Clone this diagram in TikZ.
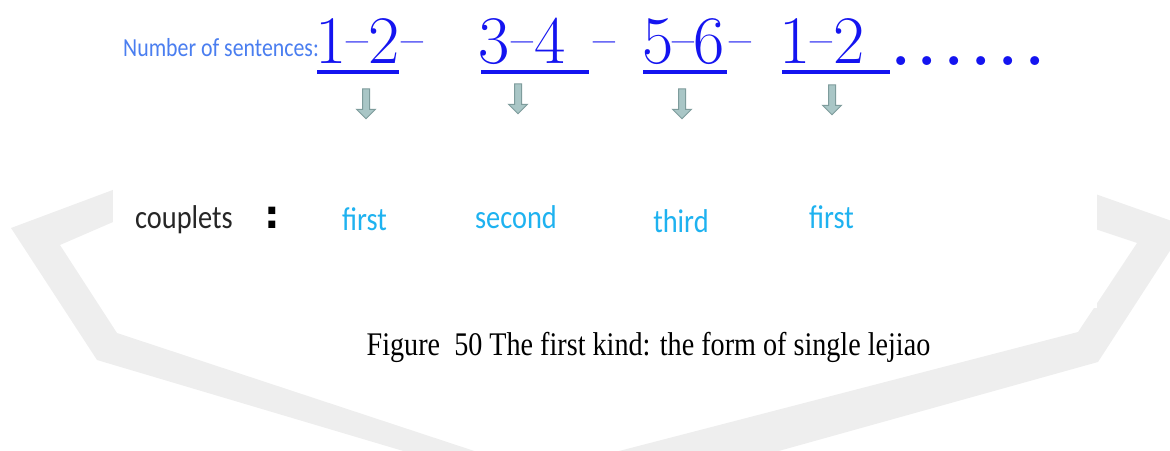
\documentclass[tikz,border=0pt]{standalone}
\usepackage{fontspec}
\usepackage{graphicx}
\usetikzlibrary{shapes.arrows}
\newfontfamily\uifont{Carlito}
\newfontfamily\capfont{Liberation Serif}
\newfontfamily\colonfont{DejaVu Sans}
\definecolor{numblue}{HTML}{1414F0}
\definecolor{lblblue}{HTML}{4A7EF0}
\definecolor{cyanlbl}{HTML}{1EB2F0}
\definecolor{arrfill}{HTML}{A9C6C6}
\definecolor{arrdraw}{HTML}{7E9C9C}
\definecolor{wm}{HTML}{EEEEEE}
\newcommand{\numdash}{\raisebox{0.045em}{\scalebox{0.7}[1]{\textendash}}}
\tikzset{
  dig/.style={inner sep=0pt, anchor=base, text=numblue, font=\fontsize{68}{68}\selectfont},
  ulstyle/.style={numblue, line width=4pt},
  downarrow/.style={single arrow, rotate=-90, fill=arrfill, draw=arrdraw, line width=1pt,
    inner sep=3pt, minimum height=30pt, minimum width=18pt,
    single arrow head extend=6pt, single arrow tip angle=90},
  uitext/.style={inner sep=0pt, anchor=base, font=\uifont\fontsize{33}{33}\selectfont},
  cyanword/.style={uitext, text=cyanlbl},
}
\begin{document}
\begin{tikzpicture}[x=1pt, y=-1pt]
\useasboundingbox (0,0) rectangle (1170,450);
% watermark band
\fill[wm, even odd rule]
  (300,120) -- (11,228) -- (97,360) -- (585,505) -- (1098,362) -- (1186,226) -- (900,125) -- cycle
  (300,141) -- (60,245) -- (117,333) -- (538,472) -- (1078,332) -- (1137,243) -- (900,164) -- cycle;
\fill[white] (113,0) rectangle (1097,308);

% heading label
\node[inner sep=0pt, anchor=base west, text=lblblue, font=\uifont\fontsize{26}{26}\selectfont]
  (numlabel) at (123,56) {\scalebox{0.84}[1]{Number of sentences:}};

% group 1
\node[dig] (g1a) at (331,63.5) {1};
\node[dig] (g1b) at (357,63.5) {\numdash};
\node[dig] (g1c) at (384.5,63.5) {2};
\node[dig] (g1d) at (412.5,63.5) {\numdash};
% group 2
\node[dig] (g2a) at (494,63.5) {3};
\node[dig] (g2b) at (522.5,63.5) {\numdash};
\node[dig] (g2c) at (550,63.5) {4};
\node[dig] (g2d) at (604.5,63.5) {\numdash};
% group 3
\node[dig] (g3a) at (658.5,63.5) {5};
\node[dig] (g3b) at (683,63.5) {\numdash};
\node[dig] (g3c) at (709,63.5) {6};
\node[dig] (g3d) at (740.5,63.5) {\numdash};
% group 4
\node[dig] (g4a) at (795,63.5) {1};
\node[dig] (g4b) at (821.5,63.5) {\numdash};
\node[dig] (g4c) at (849,63.5) {2};
\node[dig, anchor=base west, font=\fontsize{62}{62}\selectfont\bfseries] (dots) at (891,65.5)
  {.\kern7.4pt.\kern7.4pt.\kern7.4pt.\kern7.4pt.\kern7.4pt.};

% underlines
\draw[ulstyle] (317,72) -- (399,72);
\draw[ulstyle] (481,72) -- (589,72);
\draw[ulstyle] (643,72) -- (727,72);
\draw[ulstyle] (782,72) -- (890,72);

% arrows
\node[downarrow] (a1) at (366,102) {};
\node[downarrow] (a2) at (518,97) {};
\node[downarrow] (a3) at (682,102) {};
\node[downarrow] (a4) at (832,98) {};

% couplets row
\node[uitext, anchor=base west, text=black!85] (couplets) at (135,228) {\scalebox{0.86}[1]{couplets}};
\node[inner sep=0pt, anchor=base, text=black, font=\colonfont\fontsize{39}{39}\selectfont\bfseries] (colon) at (272,228) {:};
\node[cyanword] (w1) at (364.5,230) {\scalebox{0.86}[1]{first}};
\node[cyanword] (w2) at (516,228) {\scalebox{0.86}[1]{second}};
\node[cyanword] (w3) at (681,232) {\scalebox{0.86}[1]{third}};
\node[cyanword] (w4) at (831.5,228) {\scalebox{0.86}[1]{first}};

% caption
\node[inner sep=0pt, anchor=base, font=\capfont\fontsize{33}{33}\selectfont] (caption)
  at (648.5,355) {\scalebox{0.853}[1]{Figure\ \ 50 The first kind: the form of single lejiao}};
\end{tikzpicture}
\end{document}
